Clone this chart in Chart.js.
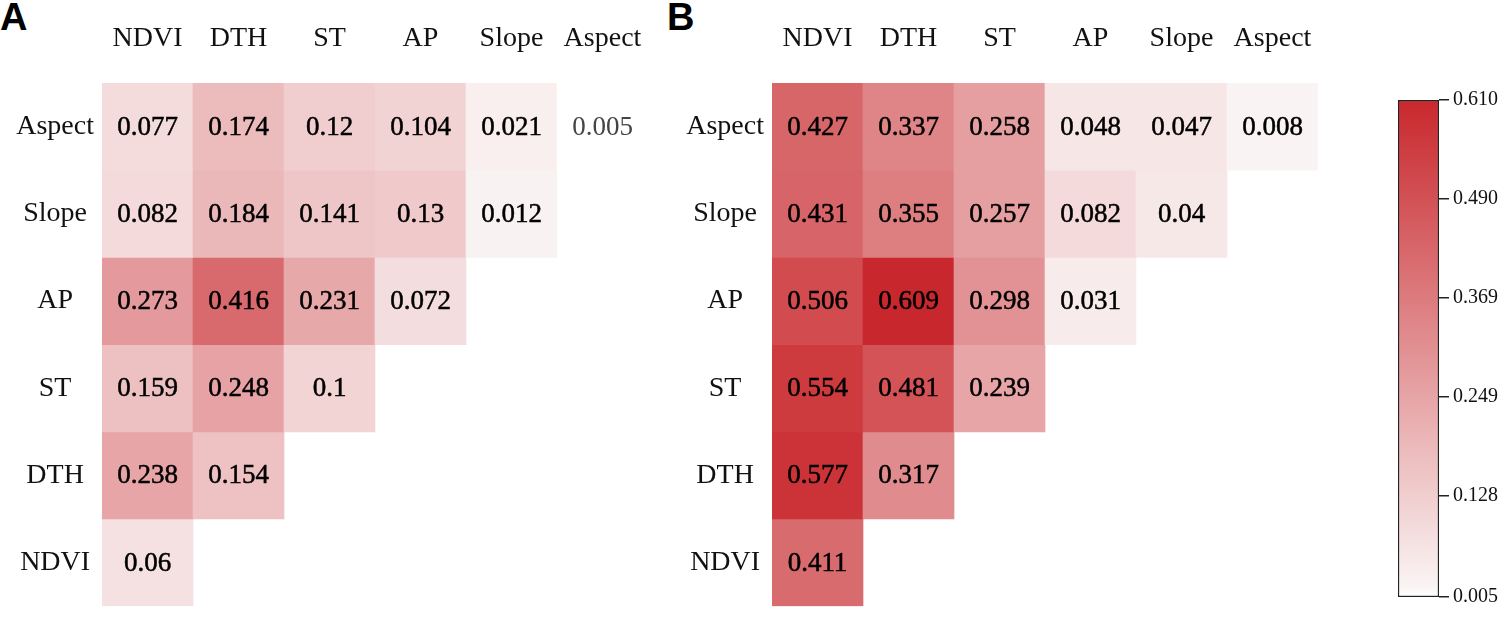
<!DOCTYPE html>
<html>
<head>
<meta charset="utf-8">
<script src="https://cdn.jsdelivr.net/npm/chart.js@4.4.1/dist/chart.umd.min.js"></script>
<style>
  html, body { margin: 0; padding: 0; background: #fff; }
  body { width: 1506px; height: 618px; position: relative; overflow: hidden; }
  .box { position: absolute; }
  .tag { position: absolute; font: bold 38px "Liberation Sans", Arial, sans-serif; line-height: 1; color: #000; }
</style>
</head>
<body>
<div class="tag" style="left:0px; top:-2px;">A</div>
<div class="tag" style="left:667px; top:-2px;">B</div>
<div class="box" style="left:0; top:0; width:700px; height:623px;"><canvas id="chartA"></canvas></div>
<div class="box" style="left:670px; top:0; width:700px; height:623px;"><canvas id="chartB"></canvas></div>
<div class="box" style="left:1380px; top:80px; width:126px; height:538px;"><canvas id="scaleBar"></canvas></div>
<script>
// columns (top axis) and rows (left axis, top to bottom)
var columns = ['NDVI', 'DTH', 'ST', 'AP', 'Slope', 'Aspect'];
var rows = ['Aspect', 'Slope', 'AP', 'ST', 'DTH', 'NDVI'];

// panel A values, one array per row
var valuesA = [
  [0.077, 0.174, 0.12, 0.104, 0.021, 0.005],
  [0.082, 0.184, 0.141, 0.13, 0.012, null],
  [0.273, 0.416, 0.231, 0.072, null, null],
  [0.159, 0.248, 0.1, null, null, null],
  [0.238, 0.154, null, null, null, null],
  [0.06, null, null, null, null, null]
];

// panel B values
var valuesB = [
  [0.427, 0.337, 0.258, 0.048, 0.047, 0.008],
  [0.431, 0.355, 0.257, 0.082, 0.04, null],
  [0.506, 0.609, 0.298, 0.031, null, null],
  [0.554, 0.481, 0.239, null, null, null],
  [0.577, 0.317, null, null, null, null],
  [0.411, null, null, null, null, null]
];

// colour bar
var scaleMin = 0.005;
var scaleMax = 0.610;
var scaleTicks = [0.005, 0.128, 0.249, 0.369, 0.490, 0.610];

var lowColor = [250, 244, 244];
var highColor = [200, 40, 45];
var serif = '"Liberation Serif", "Times New Roman", serif';

function colorFor(v) {
  if (v <= scaleMin) return 'rgba(255,255,255,1)';
  var t = (v - scaleMin) / (scaleMax - scaleMin);
  var c = lowColor.map(function(lo, k){ return Math.round(lo + (highColor[k] - lo) * t); });
  return 'rgb(' + c.join(',') + ')';
}

var cellText = {
  id: 'cellText',
  afterDatasetsDraw: function(chart) {
    var ctx = chart.ctx;
    var values = chart.config.options.plugins.cellText.values;
    ctx.save();
    ctx.font = '27px ' + serif;
    ctx.textAlign = 'center';
    ctx.textBaseline = 'middle';
    ctx.lineWidth = 0.5;
    chart.data.datasets.forEach(function(ds, i){
      var meta = chart.getDatasetMeta(i);
      meta.data.forEach(function(bar, j){
        var v = values[i][j];
        if (v === null) return;
        var p = bar.getCenterPoint();
        var col = v <= scaleMin ? '#444' : '#000';
        ctx.fillStyle = col;
        ctx.fillText(String(v), p.x, p.y + 1);
        if (v > scaleMin) {
          ctx.strokeStyle = col;
          ctx.strokeText(String(v), p.x, p.y + 1);
        }
      });
    });
    ctx.restore();
  }
};

function makeHeatmap(id, values) {
  var datasets = values.map(function(row, i){
    return {
      label: rows[i],
      data: row.map(function(v){ return v === null ? null : [i, i + 1]; }),
      backgroundColor: row.map(function(v){ return v === null ? 'rgba(0,0,0,0)' : colorFor(v); }),
      borderWidth: 0,
      grouped: false,
      barPercentage: 1,
      categoryPercentage: 1
    };
  });
  return new Chart(document.getElementById(id), {
    type: 'bar',
    data: { labels: columns, datasets: datasets },
    options: {
      responsive: true,
      maintainAspectRatio: false,
      animation: false,
      layout: { padding: { left: 0, top: 0, right: 52, bottom: 13 } },
      plugins: {
        legend: { display: false },
        tooltip: { enabled: false },
        cellText: { values: values }
      },
      scales: {
        x: {
          position: 'top',
          grid: { display: false },
          border: { display: false },
          ticks: { font: { family: serif, size: 28 }, color: '#111', padding: 20, maxRotation: 0, autoSkip: false },
          afterFit: function(scale){ scale.height = 83; }
        },
        y: {
          type: 'linear',
          min: 0,
          max: 6,
          reverse: true,
          grid: { display: false },
          border: { display: false },
          afterBuildTicks: function(scale){
            scale.ticks = rows.map(function(_, i){ return { value: i + 0.5 }; });
          },
          ticks: {
            font: { family: serif, size: 28 },
            color: '#111',
            padding: 0,
            crossAlign: 'center',
            autoSkip: false,
            callback: function(value){ return rows[Math.floor(value)]; }
          },
          afterFit: function(scale){ scale.width = 102; }
        }
      }
    },
    plugins: [cellText]
  });
}

makeHeatmap('chartA', valuesA);
makeHeatmap('chartB', valuesB);

new Chart(document.getElementById('scaleBar'), {
  type: 'bar',
  data: {
    labels: ['value'],
    datasets: [{
      data: [[scaleMin, scaleMax]],
      backgroundColor: function(context){
        var area = context.chart.chartArea;
        if (!area) return 'rgb(230,160,160)';
        var g = context.chart.ctx.createLinearGradient(0, area.bottom, 0, area.top);
        g.addColorStop(0, 'rgb(255,255,255)');
        g.addColorStop(0.02, 'rgb(' + lowColor.join(',') + ')');
        g.addColorStop(1, 'rgb(' + highColor.join(',') + ')');
        return g;
      },
      borderColor: '#222',
      borderWidth: 1.5,
      borderSkipped: false,
      barPercentage: 1,
      categoryPercentage: 1
    }]
  },
  options: {
    responsive: true,
    maintainAspectRatio: false,
    animation: false,
    layout: { padding: { left: 18, top: 20, right: 0, bottom: 21 } },
    plugins: { legend: { display: false }, tooltip: { enabled: false } },
    scales: {
      x: { display: false },
      y: {
        position: 'right',
        min: scaleMin,
        max: scaleMax,
        border: { display: false },
        grid: { display: true, drawOnChartArea: false, drawTicks: true, tickLength: 10, color: '#222', lineWidth: 1.5 },
        afterBuildTicks: function(scale){
          scale.ticks = scaleTicks.map(function(v){ return { value: v }; });
        },
        ticks: {
          font: { family: serif, size: 20 },
          color: '#111',
          padding: 4,
          autoSkip: false,
          callback: function(value){ return value.toFixed(3); }
        },
        afterFit: function(scale){ scale.width = 67; }
      }
    }
  }
});
</script>
</body>
</html>
